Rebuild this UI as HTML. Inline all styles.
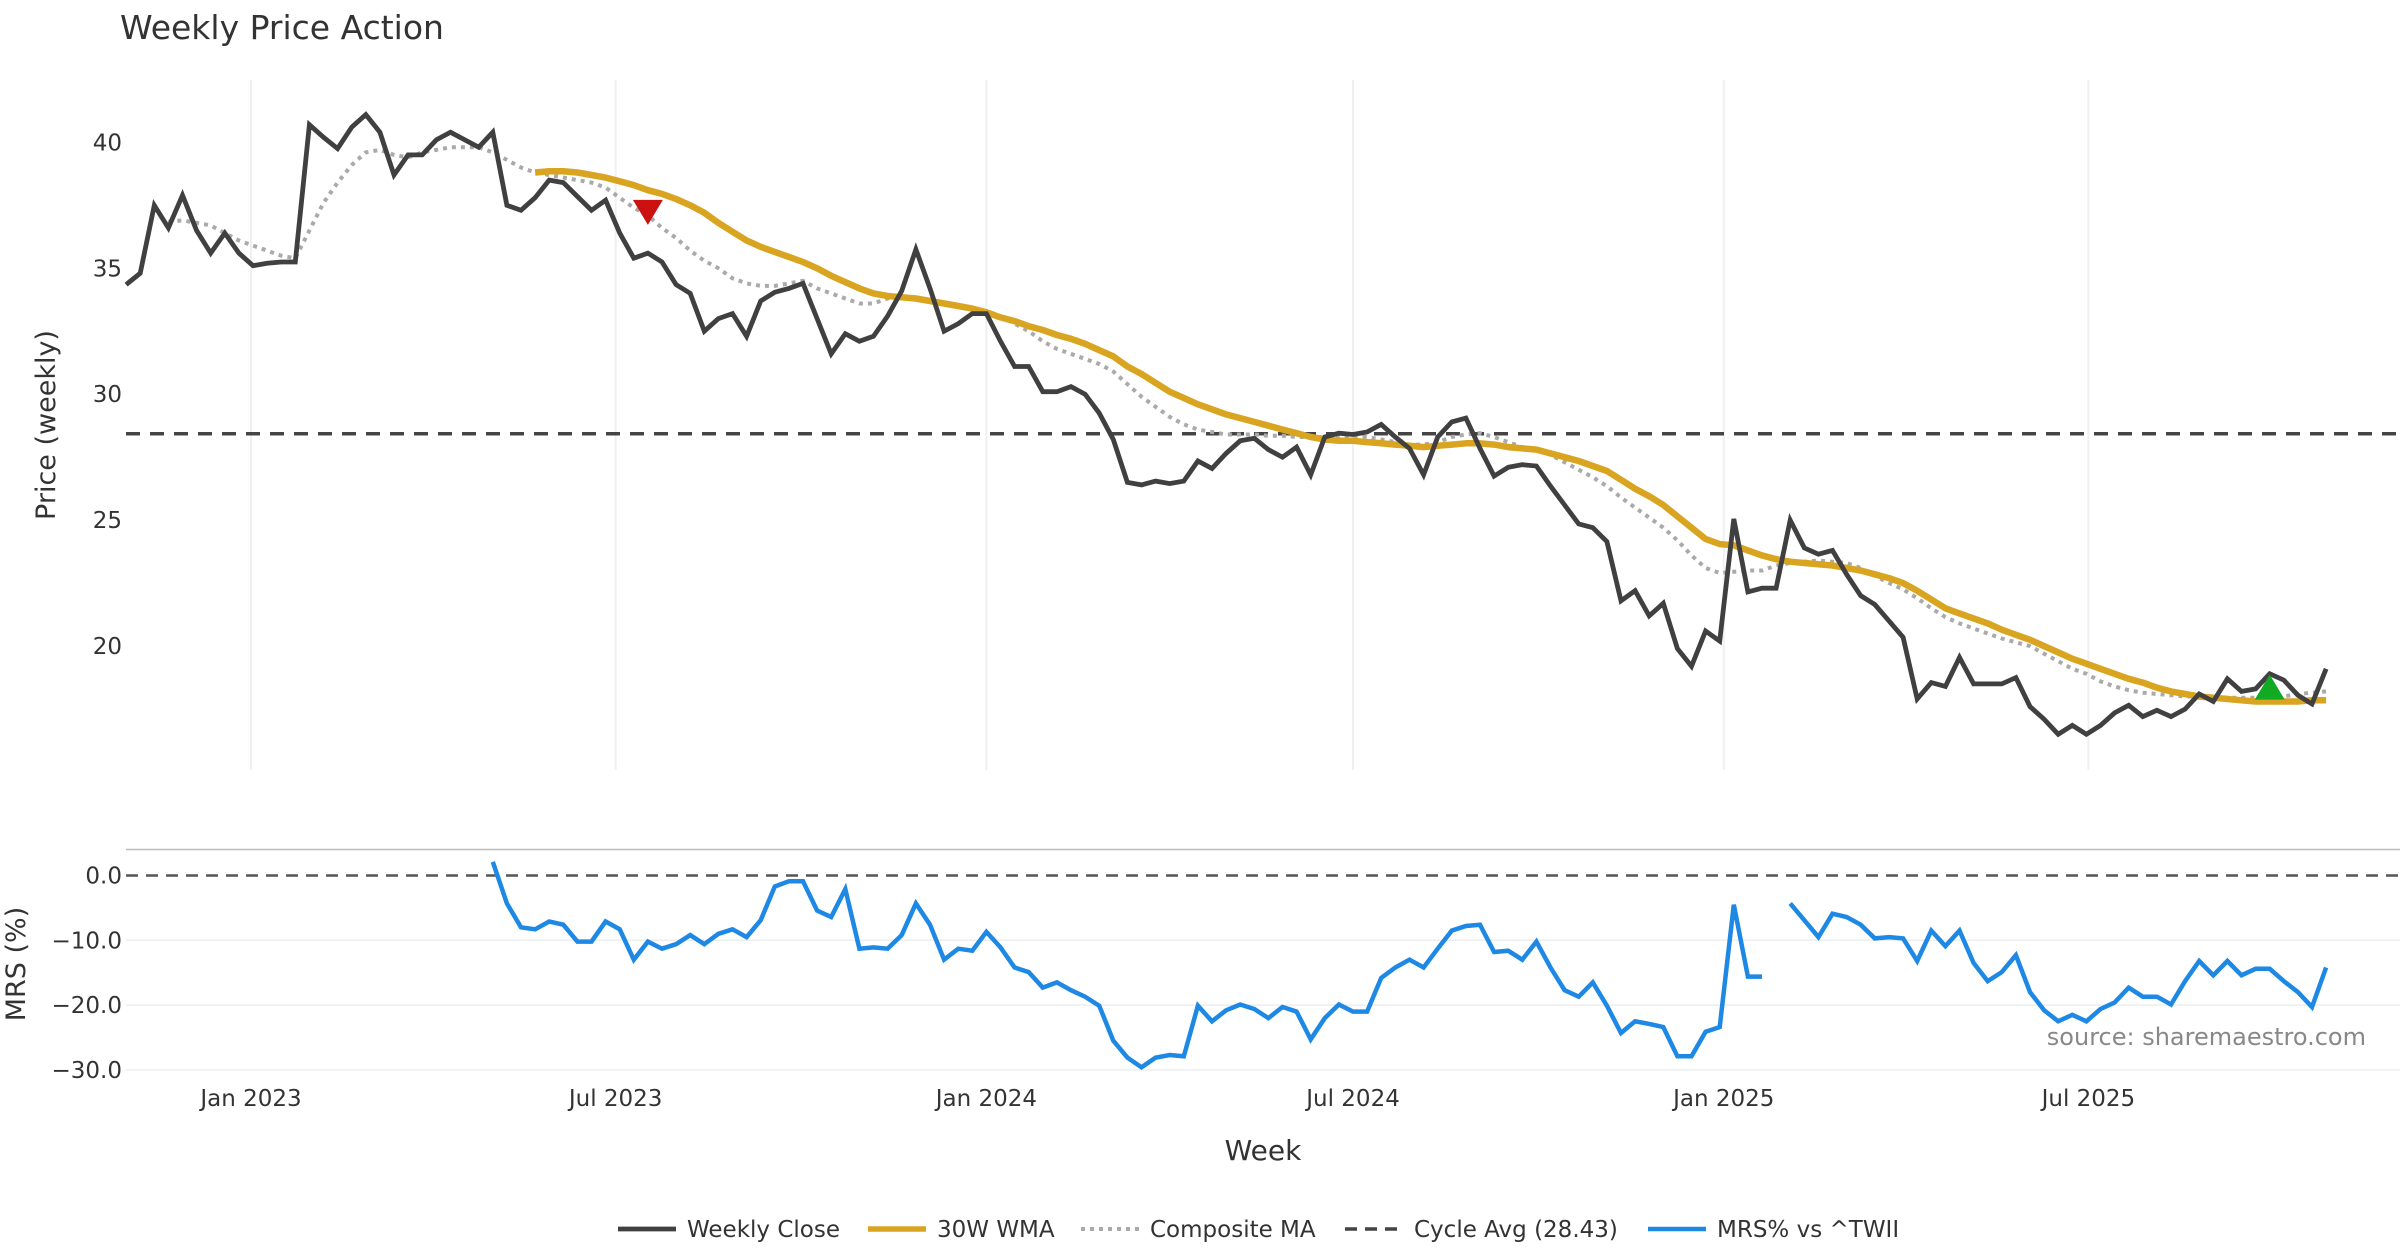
<!DOCTYPE html>
<html><head><meta charset="utf-8"><style>
html,body{margin:0;padding:0;background:#fff;}
svg{display:block;font-family:"DejaVu Sans","Liberation Sans",sans-serif;}
</style></head><body>
<svg id="chart" width="2400" height="1260" viewBox="0 0 2400 1260" xmlns="http://www.w3.org/2000/svg">
<text x="120" y="39" font-size="33" fill="#333">Weekly Price Action</text>
<g id="grid"></g>
<g id="axes"></g>
<g id="series"></g>
<text transform="translate(55,425) rotate(-90)" text-anchor="middle" font-size="27" fill="#333">Price (weekly)</text>
<text transform="translate(25,964) rotate(-90)" text-anchor="middle" font-size="27" fill="#333">MRS (%)</text>
<text x="1263" y="1160" text-anchor="middle" font-size="28" fill="#333">Week</text>
<text x="2366" y="1045" text-anchor="end" font-size="24" fill="#888">source: sharemaestro.com</text>
<g id="legend"></g>
</svg>
<script>
const closes=[34.35,34.8,37.5,36.6,37.9,36.5,35.6,36.4,35.6,35.1,35.2,35.25,35.25,40.7,40.2,39.75,40.6,41.1,40.4,38.7,39.5,39.5,40.1,40.4,40.1,39.8,40.4,37.5,37.3,37.8,38.5,38.4,37.85,37.3,37.7,36.4,35.4,35.6,35.25,34.35,34.0,32.5,33.0,33.2,32.3,33.7,34.05,34.2,34.4,33.0,31.6,32.4,32.1,32.3,33.1,34.1,35.75,34.2,32.5,32.8,33.2,33.2,32.1,31.1,31.1,30.1,30.1,30.3,30.0,29.25,28.2,26.5,26.4,26.55,26.45,26.55,27.35,27.05,27.65,28.15,28.25,27.8,27.5,27.9,26.8,28.3,28.45,28.4,28.5,28.8,28.3,27.85,26.8,28.3,28.9,29.05,27.85,26.75,27.1,27.2,27.15,26.35,25.6,24.85,24.7,24.15,21.8,22.2,21.2,21.7,19.9,19.2,20.6,20.2,25.05,22.15,22.3,22.3,25.0,23.9,23.65,23.8,22.85,22.0,21.65,21.0,20.35,17.9,18.55,18.4,19.55,18.5,18.5,18.5,18.75,17.6,17.1,16.5,16.85,16.5,16.85,17.35,17.65,17.2,17.45,17.2,17.5,18.1,17.8,18.7,18.2,18.3,18.9,18.65,18.05,17.7,19.1];
const wma=[null,null,null,null,null,null,null,null,null,null,null,null,null,null,null,null,null,null,null,null,null,null,null,null,null,null,null,null,null,
38.8,38.85,38.85,38.8,38.7,38.6,38.45,38.3,38.1,37.95,37.75,37.5,37.2,36.8,36.45,36.1,35.85,35.65,35.45,35.25,35.0,34.7,34.45,34.2,34.0,33.9,33.85,33.8,33.7,33.6,33.5,33.4,33.25,33.05,32.9,32.7,32.55,32.35,32.2,32.0,31.75,31.5,31.1,30.8,30.45,30.1,29.85,29.6,29.4,29.2,29.05,28.9,28.75,28.6,28.45,28.3,28.2,28.15,28.15,28.1,28.05,28.0,27.95,27.9,27.95,28.0,28.05,28.05,28.0,27.9,27.85,27.8,27.65,27.5,27.35,27.15,26.95,26.6,26.25,25.95,25.6,25.15,24.7,24.25,24.05,24.0,23.8,23.6,23.45,23.35,23.3,23.25,23.2,23.1,23.0,22.85,22.7,22.5,22.2,21.85,21.5,21.3,21.1,20.9,20.65,20.45,20.25,20.0,19.75,19.5,19.3,19.1,18.9,18.7,18.55,18.35,18.2,18.1,18.0,17.95,17.9,17.85,17.8,17.8,17.8,17.8,17.85,17.85];
const composite=[null,null,null,
36.85,36.9,36.8,36.7,36.4,36.1,35.9,35.7,35.5,35.4,36.5,37.6,38.4,39.1,39.6,39.7,39.5,39.4,39.6,39.7,39.8,39.8,39.8,39.6,39.3,39.0,38.8,38.7,38.6,38.5,38.4,38.2,37.8,37.4,37.1,36.6,36.2,35.7,35.3,35.0,34.6,34.4,34.3,34.3,34.4,34.5,34.2,34.0,33.8,33.6,33.6,33.8,33.9,33.8,33.7,33.6,33.5,33.4,33.3,33.1,32.8,32.5,32.1,31.8,31.6,31.4,31.2,30.9,30.4,29.9,29.5,29.1,28.8,28.6,28.5,28.4,28.4,28.4,28.35,28.35,28.3,28.3,28.3,28.35,28.35,28.3,28.2,28.1,28.0,28.0,28.1,28.3,28.4,28.45,28.3,28.1,27.9,27.8,27.6,27.3,27.0,26.7,26.35,25.9,25.5,25.1,24.7,24.2,23.6,23.1,22.9,22.95,23.0,23.0,23.2,23.3,23.35,23.4,23.35,23.3,23.1,22.8,22.5,22.25,21.9,21.5,21.15,20.9,20.7,20.5,20.3,20.15,20.0,19.7,19.4,19.1,18.9,18.6,18.4,18.25,18.15,18.1,18.05,18.0,18.0,18.0,17.95,17.95,17.95,17.95,18.0,18.1,18.15,18.2];
const mrs=[null,null,null,null,null,null,null,null,null,null,null,null,null,null,null,null,null,null,null,null,null,null,null,null,null,null,
2.1,-4.3,-8.0,-8.3,-7.1,-7.6,-10.2,-10.2,-7.1,-8.3,-13.0,-10.2,-11.3,-10.6,-9.2,-10.6,-9.0,-8.3,-9.5,-6.9,-1.7,-0.9,-0.9,-5.4,-6.4,-2.1,-11.3,-11.1,-11.3,-9.2,-4.3,-7.6,-13.0,-11.3,-11.6,-8.7,-11.1,-14.2,-14.9,-17.3,-16.5,-17.7,-18.7,-20.1,-25.5,-28.1,-29.6,-28.1,-27.7,-27.9,-20.1,-22.5,-20.8,-19.9,-20.6,-22.0,-20.3,-21.0,-25.3,-22.0,-19.9,-21.0,-21.0,-15.8,-14.2,-13.0,-14.2,-11.3,-8.5,-7.8,-7.6,-11.8,-11.6,-13.0,-10.2,-14.2,-17.7,-18.7,-16.5,-20.1,-24.3,-22.5,-22.9,-23.4,-27.9,-27.9,-24.1,-23.4,-4.5,-15.6,-15.6,null,-4.3,-6.9,-9.5,-5.9,-6.4,-7.6,-9.7,-9.5,-9.7,-13.2,-8.5,-10.9,-8.5,-13.5,-16.3,-14.9,-12.3,-18.0,-20.8,-22.5,-21.5,-22.5,-20.6,-19.6,-17.3,-18.7,-18.7,-19.9,-16.3,-13.2,-15.4,-13.2,-15.4,-14.4,-14.4,-16.3,-18.0,-20.3,-14.2];
const cycleAvg=28.43;
const sellIdx=[37], sellPrice=[37.2];
const buyIdx=[152], buyPrice=[18.35];
const priceTicks=[20,25,30,35,40];
const mrsTicks=[0,-10,-20,-30];
const mrsTickLabels=["0.0","\u221210.0","\u221220.0","\u221230.0"];
const xTickDays=[0,181,365,547,731,912];
const xTickLabels=["Jan 2023","Jul 2023","Jan 2024","Jul 2024","Jan 2025","Jul 2025"];

const NS="http://www.w3.org/2000/svg";
const startOffsetDays=-62;
const xDay=d=>251+d*2.0147;
const xIdx=i=>xDay(startOffsetDays+7*i);
const yP=p=>142.3+(40-p)*25.19;
const yM=v=>875.5-v*6.48;
function mk(tag,attrs,parent){const e=document.createElementNS(NS,tag);for(const k in attrs)e.setAttribute(k,attrs[k]);parent.appendChild(e);return e;}
const grid=document.getElementById('grid'),axes=document.getElementById('axes'),ser=document.getElementById('series'),leg=document.getElementById('legend');

xTickDays.forEach((d,k)=>{
 let l=mk('line',{x1:xDay(d),x2:xDay(d),y1:80,y2:770,stroke:'#eef0f2','stroke-width':2},grid);
 
 
 let t=mk('text',{x:xDay(d),y:1106,'text-anchor':'middle','font-size':23,fill:'#333'},axes);
 t.textContent=xTickLabels[k];
 
 
});
priceTicks.forEach(p=>{
 let t=mk('text',{x:122,y:yP(p)+8,'text-anchor':'end','font-size':23,fill:'#333'},axes);
 t.textContent=String(p);
 
 
});
mrsTicks.forEach((v,k)=>{
 if(v!==0){let l=mk('line',{x1:126,x2:2400,y1:yM(v),y2:yM(v),stroke:'#eceef0','stroke-width':1.5},grid);
 
 }
 let t=mk('text',{x:122,y:yM(v)+8,'text-anchor':'end','font-size':23,fill:'#333'},axes);
 t.textContent=mrsTickLabels[k];
 
 
});
let sep=mk('line',{x1:126,x2:2400,y1:849.5,y2:849.5,stroke:'#bbb','stroke-width':1.5},axes);


let zl=mk('line',{x1:126,x2:2400,y1:yM(0),y2:yM(0),stroke:'#555','stroke-width':2.5,'stroke-dasharray':'12 8'},ser);



function path(arr,yf){let d='',pen=false;arr.forEach((v,i)=>{if(v===null||v===undefined){pen=false;return;}d+=(pen?'L':'M')+xIdx(i).toFixed(1)+','+yf(v).toFixed(1);pen=true;});return d;}
let ca=mk('line',{x1:126,x2:2400,y1:yP(cycleAvg),y2:yP(cycleAvg),stroke:'#444','stroke-width':3.5,'stroke-dasharray':'14 10'},ser);


let cm=mk('path',{d:path(composite,yP),fill:'none',stroke:'#aaaaaa','stroke-width':4,'stroke-dasharray':'4 5'},ser);


let wl=mk('path',{d:path(wma,yP),fill:'none',stroke:'#D9A521','stroke-width':6.5,'stroke-linejoin':'round'},ser);


let cl=mk('path',{d:path(closes,yP),fill:'none',stroke:'#404040','stroke-width':4.8},ser);


let ml=mk('path',{d:path(mrs,yM),fill:'none',stroke:'#1E88E5','stroke-width':4.5},ser);


sellIdx.forEach((i,k)=>{const x=xIdx(i),y=yP(sellPrice[k]);
 let m=mk('polygon',{points:`${x-15},${y-13} ${x+15},${y-13} ${x},${y+12}`,fill:'#CC1111'},ser);
 
 });
buyIdx.forEach((i,k)=>{const x=xIdx(i),y=yP(buyPrice[k]);
 let m=mk('polygon',{points:`${x-15},${y+12} ${x+15},${y+12} ${x},${y-13}`,fill:'#11AA22'},ser);
 
 });

const legItems=[["Weekly Close",618,'#404040',4.8,null],["30W WMA",868,'#D9A521',5.5,null],["Composite MA",1081,'#aaaaaa',4,'4 5'],["Cycle Avg (28.43)",1345,'#444',3.5,'12 8'],["MRS% vs ^TWII",1648,'#1E88E5',4.5,null]];
legItems.forEach(it=>{
 let l=mk('line',{x1:it[1],x2:it[1]+58,y1:1229,y2:1229,stroke:it[2],'stroke-width':it[3]},leg);
 if(it[4])l.setAttribute('stroke-dasharray',it[4]);
 
 
 let t=mk('text',{x:it[1]+69,y:1237,'font-size':23,fill:'#333'},leg);
 t.textContent=it[0];
 
 
});
</script>
</body></html>
